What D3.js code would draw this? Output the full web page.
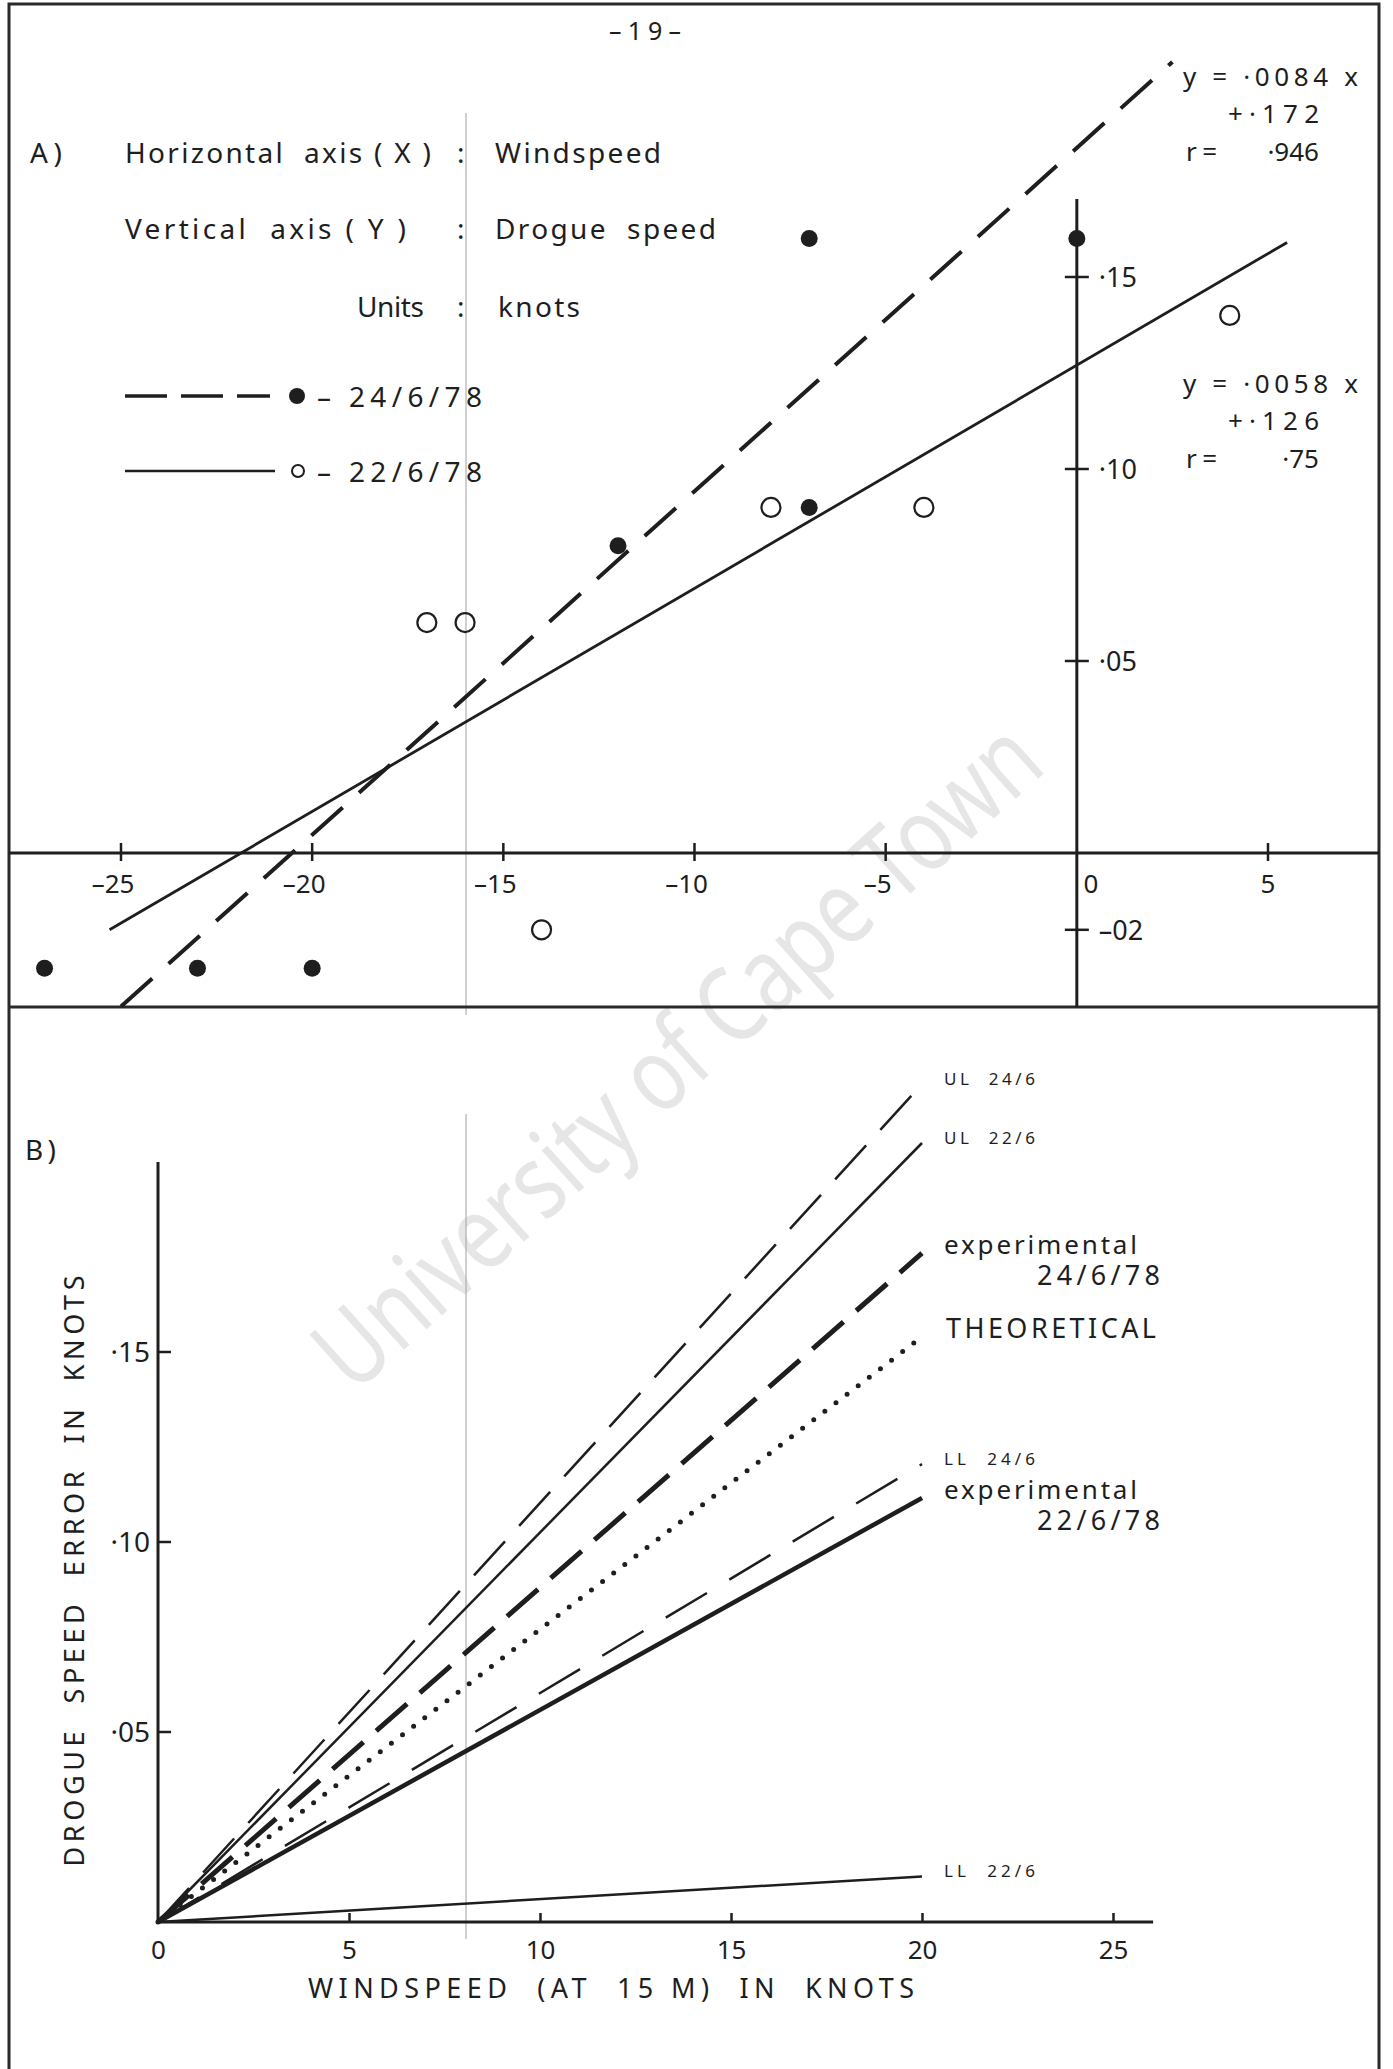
<!DOCTYPE html>
<html>
<head>
<meta charset="utf-8">
<script src="https://cdn.jsdelivr.net/npm/d3@7"></script>
<style>
    body { margin: 0; background: #fff; }
    svg { display: block; }
    text { font-family: "Noto Sans", Lato, sans-serif; white-space: pre; }
</style>
</head>
<body>
<div id="chart"></div>
<script>
// ---- values ----

// panel A: windspeed (x) against drogue speed (y), knots
const pointsA24 = [[-27, -0.03], [-23, -0.03], [-20, -0.03], [-12, 0.08], [-7, 0.09], [-7, 0.16], [0, 0.16]];
const pointsA22 = [[-17, 0.06], [-16, 0.06], [-14, -0.02], [-8, 0.09], [-4, 0.09], [4, 0.14]];

// regression lines as they are drawn (end points)
const fitA24 = [[-25, -0.04], [2.5, 0.206]];
const fitA22 = [[-25.3, -0.02], [5.5, 0.159]];

const xTicksA = [-25, -20, -15, -10, -5, 0, 5];
const yTicksA = [0.15, 0.10, 0.05, -0.02];
const yTickLabelsA = ["·15", "·10", "·05", "–02"];

const eqnA24 = ["y = ·0084 x", "+·172", "r =", "·946"];
const eqnA22 = ["y = ·0058 x", "+·126", "r =", "·75"];

// panel B: drogue speed error against windspeed, all lines start at the origin
const lineNamesB = ["UL 24/6", "UL 22/6", "experimental 24/6/78", "THEORETICAL", "LL 24/6", "experimental 22/6/78", "LL 22/6"];
const windEndB = 20;
const errorAtEndB = [0.2205, 0.205, 0.176, 0.154, 0.1205, 0.1116, 0.012];

const xTicksB = [0, 5, 10, 15, 20, 25];
const yTicksB = [0.05, 0.10, 0.15];
const yTickLabelsB = ["·05", "·10", "·15"];

// ---- drawing ----
const W = 1393, H = 2069;
const ink = "#1e1e1e";

const svg = d3.select("#chart").append("svg")
    .attr("width", W)
    .attr("height", H);

svg.append("rect").attr("width", W).attr("height", H).attr("fill", "#fff");

// small helper for text
function label(g, x, y, str, size, len, anchor) {
    let t = g.append("text")
        .attr("x", x)
        .attr("y", y)
        .attr("font-size", size)
        .attr("fill", ink)
        .text(str);
    if (len) t.attr("textLength", len).attr("lengthAdjust", "spacing");
    if (anchor) t.attr("text-anchor", anchor);
    return t;
}

// library watermark, sits behind everything
svg.append("text")
    .attr("transform", "translate(674,1052) rotate(-42)")
    .attr("text-anchor", "middle")
    .attr("dominant-baseline", "central")
    .attr("font-family", "'Liberation Sans', Arial, sans-serif")
    .attr("font-size", 104)
    .attr("textLength", 935)
    .attr("lengthAdjust", "spacingAndGlyphs")
    .attr("fill", "#e6e6e6")
    .text("University of Cape Town");

// faint scanner line
svg.append("g").attr("stroke", "#a0a0a0").attr("stroke-width", 1)
    .selectAll("line").data([[113, 1015], [1114, 1939]]).join("line")
    .attr("x1", 466).attr("x2", 466)
    .attr("y1", d => d[0]).attr("y2", d => d[1]);

// page frame + panel divider
let frame = svg.append("g").attr("stroke", "#2a2a2a").attr("stroke-width", 3).attr("fill", "none");
frame.append("path").attr("d", "M9," + H + " V4 H1379 V" + H);
frame.append("line").attr("x1", 9).attr("x2", 1379).attr("y1", 1007).attr("y2", 1007);

label(svg, 645, 40, "–19–", 25, 72, "middle");

/* ================= PANEL A ================= */
let gA = svg.append("g");

let xA = d3.scaleLinear().domain([-25, 5]).range([121, 1268]);
let yA = d3.scaleLinear().domain([0, 0.15]).range([853, 277]);

// axes
gA.append("line")
    .attr("x1", 9).attr("x2", 1379)
    .attr("y1", yA(0)).attr("y2", yA(0))
    .attr("stroke", ink).attr("stroke-width", 3);
gA.append("line")
    .attr("x1", xA(0)).attr("x2", xA(0))
    .attr("y1", 199).attr("y2", 1007)
    .attr("stroke", ink).attr("stroke-width", 3);

gA.selectAll(".xtickA").data(xTicksA.filter(d => d !== 0)).join("line")
    .attr("class", "xtickA")
    .attr("x1", d => xA(d)).attr("x2", d => xA(d))
    .attr("y1", yA(0) - 10).attr("y2", yA(0) + 8)
    .attr("stroke", ink).attr("stroke-width", 2.5);

gA.selectAll(".xlabA").data(xTicksA).join("text")
    .attr("class", "xlabA")
    .attr("x", d => d < 0 ? xA(d) - 8 : (d === 0 ? xA(d) + 14 : xA(d)))
    .attr("y", yA(0) + 40)
    .attr("text-anchor", "middle")
    .attr("font-size", 26)
    .attr("fill", ink)
    .text(d => d < 0 ? "–" + Math.abs(d) : String(d));

gA.selectAll(".ytickA").data(yTicksA).join("line")
    .attr("class", "ytickA")
    .attr("x1", xA(0) - 12).attr("x2", xA(0) + 12)
    .attr("y1", d => yA(d)).attr("y2", d => yA(d))
    .attr("stroke", ink).attr("stroke-width", 2.5);

gA.selectAll(".ylabA").data(yTicksA).join("text")
    .attr("class", "ylabA")
    .attr("x", xA(0) + 22)
    .attr("y", d => yA(d) + 10)
    .attr("font-size", 27)
    .attr("fill", ink)
    .text((d, i) => yTickLabelsA[i]);

// regression lines
let lineA = d3.line().x(d => xA(d[0])).y(d => yA(d[1]));

gA.append("path").datum(fitA24)
    .attr("d", lineA)
    .attr("fill", "none").attr("stroke", ink)
    .attr("stroke-width", 4).attr("stroke-dasharray", "42 22");
gA.append("path").datum(fitA22)
    .attr("d", lineA)
    .attr("fill", "none").attr("stroke", ink)
    .attr("stroke-width", 2.8);

// points
gA.selectAll(".dot24").data(pointsA24).join("circle")
    .attr("class", "dot24")
    .attr("cx", d => xA(d[0])).attr("cy", d => yA(d[1]))
    .attr("r", 8.5).attr("fill", ink);
gA.selectAll(".dot22").data(pointsA22).join("circle")
    .attr("class", "dot22")
    .attr("cx", d => xA(d[0])).attr("cy", d => yA(d[1]))
    .attr("r", 9.5).attr("fill", "none")
    .attr("stroke", ink).attr("stroke-width", 2.2);

// header text of panel A
label(gA, 30, 163, "A)", 28, 32);
label(gA, 125, 163, "Horizontal  axis ( X )", 28, 306);
label(gA, 125, 239, "Vertical  axis ( Y )", 28, 281);
label(gA, 357, 317, "Units", 28, 67);
[163, 239, 317].forEach(y => label(gA, 457, y, ":", 28));
label(gA, 495, 163, "Windspeed", 28, 166);
label(gA, 495, 239, "Drogue  speed", 28, 221);
label(gA, 498, 317, "knots", 28, 82);

// legend
gA.append("line")
    .attr("x1", 125).attr("x2", 270).attr("y1", 396).attr("y2", 396)
    .attr("stroke", ink).attr("stroke-width", 3.5).attr("stroke-dasharray", "42 14");
gA.append("circle").attr("cx", 297).attr("cy", 396).attr("r", 8).attr("fill", ink);
label(gA, 317, 407, "– 24/6/78", 28, 165);

gA.append("line")
    .attr("x1", 125).attr("x2", 275).attr("y1", 471).attr("y2", 471)
    .attr("stroke", ink).attr("stroke-width", 2.5);
gA.append("circle").attr("cx", 298).attr("cy", 471).attr("r", 6)
    .attr("fill", "none").attr("stroke", ink).attr("stroke-width", 2);
label(gA, 317, 482, "– 22/6/78", 28, 165);

// equations at the right
[[eqnA24, 86], [eqnA22, 393]].forEach(([eq, y0]) => {
    label(gA, 1183, y0, eq[0], 26, 175);
    label(gA, 1228, y0 + 37, eq[1], 26, 91);
    label(gA, 1186, y0 + 75, eq[2], 26, 31);
    label(gA, 1319, y0 + 75, eq[3], 26, null, "end");
});

/* ================= PANEL B ================= */
let gB = svg.append("g");

let xB = d3.scaleLinear().domain([0, 25]).range([158, 1113]);
let yB = d3.scaleLinear().domain([0, 0.15]).range([1922, 1352]);

// axis lines
gB.append("line")
    .attr("x1", xB(0)).attr("x2", xB(26.05))
    .attr("y1", yB(0)).attr("y2", yB(0))
    .attr("stroke", ink).attr("stroke-width", 3);
gB.append("line")
    .attr("x1", xB(0)).attr("x2", xB(0))
    .attr("y1", yB(0.2)).attr("y2", yB(0))
    .attr("stroke", ink).attr("stroke-width", 3);

// x axis: ticks point up, labels below
let xAxisB = d3.axisBottom(xB)
    .tickValues(xTicksB)
    .tickSize(0)
    .tickPadding(19)
    .tickFormat(d3.format("d"));

let gxB = gB.append("g")
    .attr("transform", "translate(0," + yB(0) + ")")
    .call(xAxisB)
    .attr("font-size", 26)
    .attr("font-family", "'Noto Sans', Lato, sans-serif")
    .attr("color", ink);
gxB.select(".domain").remove();
gxB.selectAll(".tick line")
    .filter(d => d > 0)
    .attr("y2", -9)
    .attr("stroke-width", 2.5);

// y axis: ticks point right, labels left
gB.selectAll(".ytickB").data(yTicksB).join("line")
    .attr("class", "ytickB")
    .attr("x1", xB(0)).attr("x2", xB(0) + 13)
    .attr("y1", d => yB(d)).attr("y2", d => yB(d))
    .attr("stroke", ink).attr("stroke-width", 2.5);
gB.selectAll(".ylabB").data(yTicksB).join("text")
    .attr("class", "ylabB")
    .attr("x", xB(0) - 8)
    .attr("y", d => yB(d) + 10)
    .attr("text-anchor", "end")
    .attr("font-size", 28)
    .attr("fill", ink)
    .text((d, i) => yTickLabelsB[i]);

// axis titles
label(gB, 308, 1998, "WINDSPEED  (AT  15 M)  IN  KNOTS", 27, 606);
label(gB, 0, 0, "DROGUE  SPEED  ERROR  IN  KNOTS", 27, 591, "middle")
    .attr("transform", "translate(84,1571) rotate(-90)");
label(gB, 25, 1160, "B)", 28, 31);

// line styles for the seven lines
const styleB = {
    "UL 24/6": { w: 2.5, dash: "46 21" },
    "UL 22/6": { w: 2.5, dash: null },
    "experimental 24/6/78": { w: 5, dash: "41 17" },
    "THEORETICAL": { w: 5, dash: "0 14", cap: "round" },
    "LL 24/6": { w: 2.5, dash: "48 26" },
    "experimental 22/6/78": { w: 4.5, dash: null },
    "LL 22/6": { w: 2.5, dash: null }
};

let lineB = d3.line().x(d => xB(d[0])).y(d => yB(d[1]));

lineNamesB.forEach((name, i) => {
    let st = styleB[name];
    let pts = [[0, 0], [windEndB, errorAtEndB[i]]];
    gB.append("path").datum(pts)
        .attr("d", lineB)
        .attr("fill", "none")
        .attr("stroke", ink)
        .attr("stroke-width", st.w)
        .attr("stroke-dasharray", st.dash)
        .attr("stroke-linecap", st.cap || "butt");

    // end label
    let lx = xB(windEndB) + 22;
    let ly = yB(errorAtEndB[i]) + 1;
    if (name.startsWith("UL") || name.startsWith("LL")) {
        label(gB, lx, ly, name.replace(" ", "  "), 17, 91);
    } else if (name.startsWith("experimental")) {
        let parts = name.split(" ");
        label(gB, lx, ly, parts[0], 26, 193);
        label(gB, lx + 93, ly + 31, parts[1], 27, 123);
    } else {
        label(gB, lx + 2, ly, name, 27, 210);
    }
});
</script>
</body>
</html>
